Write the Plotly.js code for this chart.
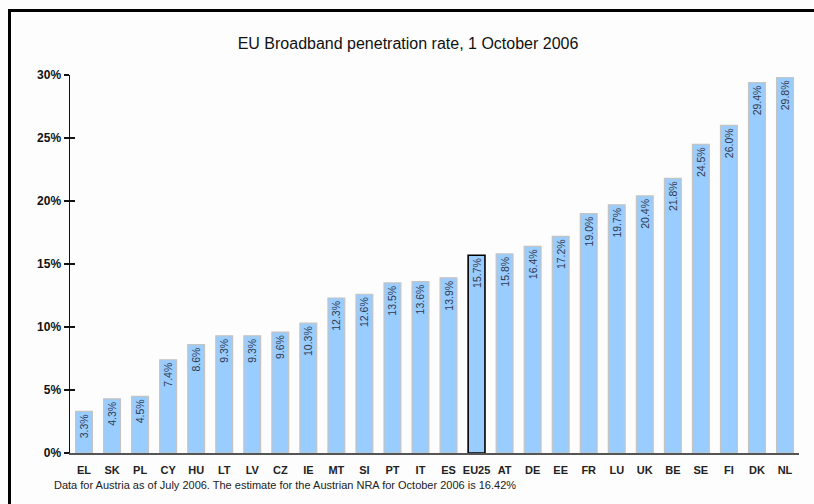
<!DOCTYPE html>
<html>
<head>
<meta charset="utf-8">
<script src="https://cdn.plot.ly/plotly-3.0.1.min.js"></script>
<style>
  html, body { margin: 0; padding: 0; background: #fdfdfd; }
  #wrap { position: relative; width: 814px; height: 504px; }
  #chart { width: 814px; height: 504px; }
  #frame { position: absolute; left: 8px; top: 9px; width: 806px; height: 495px;
           border-left: 3px solid #000; border-top: 3px solid #000; box-sizing: border-box; pointer-events: none; }
</style>
</head>
<body>
<div id="wrap">
  <div id="chart"></div>
  <div id="frame"></div>
</div>
<script>
const countries = ["EL","SK","PL","CY","HU","LT","LV","CZ","IE","MT","SI","PT","IT","ES","EU25","AT","DE","EE","FR","LU","UK","BE","SE","FI","DK","NL"];
const rates = [3.3,4.3,4.5,7.4,8.6,9.3,9.3,9.6,10.3,12.3,12.6,13.5,13.6,13.9,15.7,15.8,16.4,17.2,19.0,19.7,20.4,21.8,24.5,26.0,29.4,29.8];
const yTickVals = [0,5,10,15,20,25,30];
const yTickText = ["0%","5%","10%","15%","20%","25%","30%"];
const titleText = "EU Broadband penetration rate, 1 October 2006";
const noteText = "Data for Austria as of July 2006. The estimate for the Austrian NRA for October 2006 is 16.42%";
const highlight = "EU25";

const lineColors = countries.map(c => c === highlight ? "#000000" : "#c4c4c4");
const lineWidths = countries.map(c => c === highlight ? 1.6 : 1.2);

const trace = {
  type: "bar",
  x: countries,
  y: rates,
  text: rates.map(v => v.toFixed(1) + "%"),
  textposition: "inside",
  insidetextanchor: "end",
  textangle: -90,
  constraintext: "none",
  textfont: { family: "Arial, Liberation Sans, sans-serif", size: 10.5, color: "#33384a" },
  marker: { color: "#99ccff", line: { color: lineColors, width: lineWidths } },
  hoverinfo: "skip",
  cliponaxis: false
};

const layout = {
  width: 814, height: 504,
  margin: { l: 70, r: 15, t: 75, b: 51 },
  paper_bgcolor: "rgba(0,0,0,0)",
  plot_bgcolor: "rgba(0,0,0,0)",
  bargap: 0.4,
  showlegend: false,
  font: { family: "Arial, Liberation Sans, sans-serif", color: "#000" },
  title: {
    text: titleText,
    font: { size: 16, color: "#111" },
    x: 408 / 814, xanchor: "center", xref: "container",
    y: 1 - 43/504, yanchor: "middle", yref: "container"
  },
  xaxis: {
    type: "category",
    range: [-0.5, countries.length - 0.5],
    showline: true, linecolor: "#555", linewidth: 2,
    showgrid: false, zeroline: false,
    ticks: "",
    ticklabelstandoff: 6,
    tickfont: { size: 11, color: "#222", weight: "bold" },
    fixedrange: true
  },
  yaxis: {
    range: [0, 30],
    tickvals: yTickVals,
    ticktext: yTickText,
    showline: true, linecolor: "#111", linewidth: 1.5,
    showgrid: false, zeroline: false,
    ticks: "outside", ticklen: 5, tickwidth: 1.5, tickcolor: "#111",
    tickfont: { size: 12, color: "#111", weight: "bold" },
    fixedrange: true
  },
  yaxis2: {
    overlaying: "y", side: "left", anchor: "x",
    range: [0, 30],
    tickvals: yTickVals,
    showticklabels: false,
    showline: false, showgrid: false, zeroline: false,
    ticks: "inside", ticklen: 5, tickwidth: 1.5, tickcolor: "#111",
    fixedrange: true
  },
  annotations: [{
    text: noteText,
    xref: "paper", yref: "paper",
    x: (52 - 70) / 729, y: -(485 - 453) / 378,
    xanchor: "left", yanchor: "middle",
    showarrow: false,
    font: { size: 11, color: "#222" }
  }]
};

const dummy = { type: "bar", x: [countries[0]], y: [0], yaxis: "y2", marker: { opacity: 0 }, hoverinfo: "skip", showlegend: false };

Plotly.newPlot("chart", [trace, dummy], layout, { staticPlot: true, displayModeBar: false });
</script>
</body>
</html>
